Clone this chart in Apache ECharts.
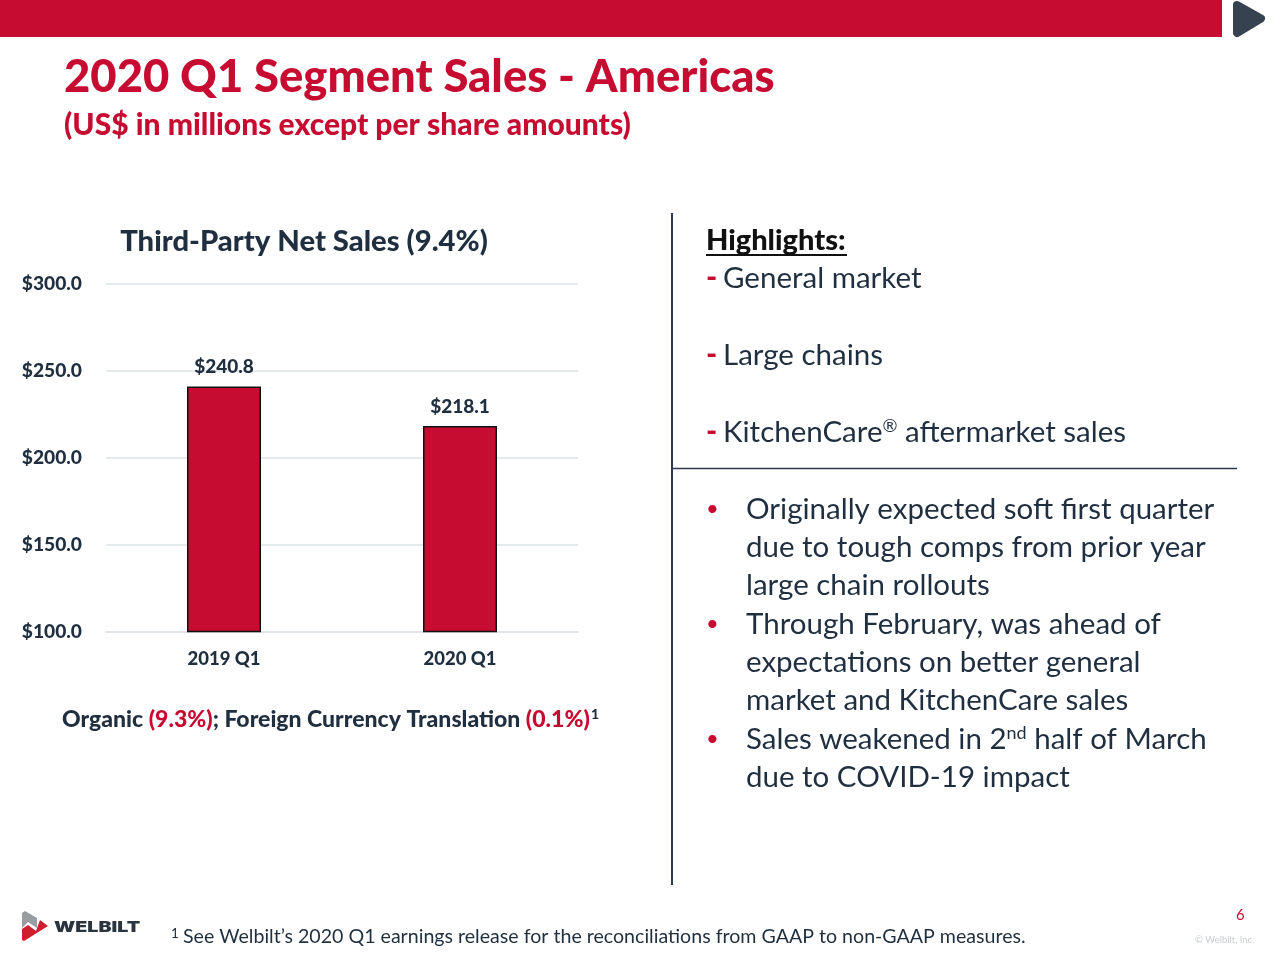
<!DOCTYPE html>
<html><head><meta charset="utf-8">
<style>html,body{margin:0;padding:0;background:#fff}#c{width:1280px;height:960px}</style>
<script src="https://cdn.jsdelivr.net/npm/echarts@6/dist/echarts.min.js"></script>
</head><body><div id="c"></div>
<script>
const categories = ['2019 Q1', '2020 Q1'];
const sales = [240.8, 218.1];
const yTicks = [100, 150, 200, 250, 300];
const highlights = ['General market', 'Large chains', 'KitchenCare{s|®} aftermarket sales'];
const bulletLines = [
  ['•', 'Originally expected soft first quarter'],
  ['', 'due to tough comps from prior year'],
  ['', 'large chain rollouts'],
  ['•', 'Through February, was ahead of'],
  ['', 'expectations on better general'],
  ['', 'market and KitchenCare sales'],
  ['•', 'Sales weakened in 2{s|nd} half of March'],
  ['', 'due to COVID-19 impact']
];
const RED = '#c60c30', INK = '#1f2f3f', FONT = 'Lato', BOLD = 900;
const T = (x, y, text, size, fill, extra) => ({
  type: 'text', x, y, silent: true,
  style: Object.assign({ text, fontFamily: FONT, fontSize: size, fill, verticalAlign: 'middle' }, extra || {})
});
const supRich = { s: { fontFamily: FONT, fontSize: 18, fill: INK, verticalAlign: 'top', padding: [0, 0, 12, 0] } };
const hY = [278.5, 355.5, 432.5];
const bY = [509.5, 547.5, 585.5, 624.5, 662.5, 700.5, 739.5, 777.5];
const graphics = [
  { type: 'rect', shape: { x: 0, y: 0, width: 1222, height: 37 }, style: { fill: RED } },
  { type: 'polygon', shape: { points: [[1237, 5], [1261, 18.5], [1237, 33]] }, style: { fill: '#36424f', stroke: '#36424f', lineWidth: 8, lineJoin: 'round' } },
  T(64, 77, '2020 Q1 Segment Sales - Americas', 45.4, RED, { fontWeight: BOLD }),
  T(64, 125, '(US$ in millions except per share amounts)', 30, RED, { fontWeight: BOLD }),
  T(304, 242, 'Third-Party Net Sales (9.4%)', 29.2, INK, { fontWeight: BOLD, align: 'center' }),
  { type: 'line', shape: { x1: 672, y1: 213, x2: 672, y2: 885 }, style: { stroke: '#2b3a4a', lineWidth: 2 } },
  { type: 'line', shape: { x1: 673, y1: 468.5, x2: 1237, y2: 468.5 }, style: { stroke: '#2b3a4a', lineWidth: 1.5 } },
  T(706, 241, 'Highlights:', 29, '#111', { fontWeight: BOLD }),
  { type: 'line', shape: { x1: 706, y1: 255, x2: 847, y2: 255 }, style: { stroke: '#111', lineWidth: 2 } },
  T(62, 720, '{k|Organic }{r|(9.3%)}{k|; Foreign Currency Translation }{r|(0.1%)}', 23, INK, {
    rich: { k: { fontFamily: FONT, fontSize: 23, fontWeight: BOLD, fill: INK }, r: { fontFamily: FONT, fontSize: 23, fontWeight: BOLD, fill: RED } }
  }),
  T(591, 714, '1', 14, INK, { fontWeight: BOLD }),
  T(171, 934, '1', 13.5, INK),
  T(183, 937, 'See Welbilt’s 2020 Q1 earnings release for the reconciliations from GAAP to non-GAAP measures.', 19.6, INK),
  T(1236, 915, '6', 15, RED),
  T(1195, 940, '© Welbilt, Inc.', 9.5, '#c8ccd0'),
  { type: 'polygon', shape: { points: [[22, 913], [25, 911], [37, 918], [37, 928], [28, 922], [22, 928]] }, style: { fill: '#9a9da0' } },
  { type: 'polygon', shape: { points: [[22, 929], [28, 925], [36, 931], [40, 920], [48, 926], [24, 941], [22, 940]] }, style: { fill: '#cf1f2e' } },
  { type: 'text', x: 54, y: 927, scaleX: 1.31, silent: true, style: { text: 'WELBILT', fontFamily: 'Inter', fontWeight: 900, fontSize: 15, fill: '#2a3540', verticalAlign: 'middle' } }
];
highlights.forEach((h, i) => {
  graphics.push(T(706, hY[i], '-', 30, RED, { fontWeight: BOLD }));
  graphics.push(T(723, hY[i], h, 29.5, INK, { rich: supRich }));
});
bulletLines.forEach((l, i) => {
  if (l[0]) graphics.push(T(706, bY[i] - 1, l[0], 22, RED));
  graphics.push(T(746, bY[i], l[1], 29.5, INK, { rich: supRich }));
});
const chart = echarts.init(document.getElementById('c'), null, { renderer: 'canvas' });
chart.setOption({
  animation: false,
  backgroundColor: '#fff',
  grid: { left: 106, right: 702, top: 283.5, bottom: 328.5 },
  xAxis: {
    type: 'category', data: categories,
    axisLine: { lineStyle: { color: '#dde3e6', width: 1.5 } }, axisTick: { show: false },
    axisLabel: { fontFamily: FONT, fontWeight: BOLD, fontSize: 18.5, color: INK, margin: 18 }
  },
  yAxis: {
    type: 'value', min: yTicks[0], max: yTicks[yTicks.length - 1], interval: 50,
    axisLine: { show: false }, axisTick: { show: false },
    splitLine: { lineStyle: { color: '#dde3e6', width: 1.5 } },
    axisLabel: { fontFamily: FONT, fontWeight: BOLD, fontSize: 19.2, color: INK, margin: 24, padding: [2, 0, 0, 0], formatter: v => '$' + v.toFixed(1) }
  },
  series: [{
    type: 'bar', data: sales, barWidth: 74,
    itemStyle: { color: RED, borderColor: '#111', borderWidth: 1.5 },
    label: { show: true, position: 'top', distance: 10, fontFamily: FONT, fontWeight: BOLD, fontSize: 19, color: INK, formatter: p => '$' + p.value.toFixed(1) }
  }],
  graphic: { elements: graphics }
});
</script></body></html>
